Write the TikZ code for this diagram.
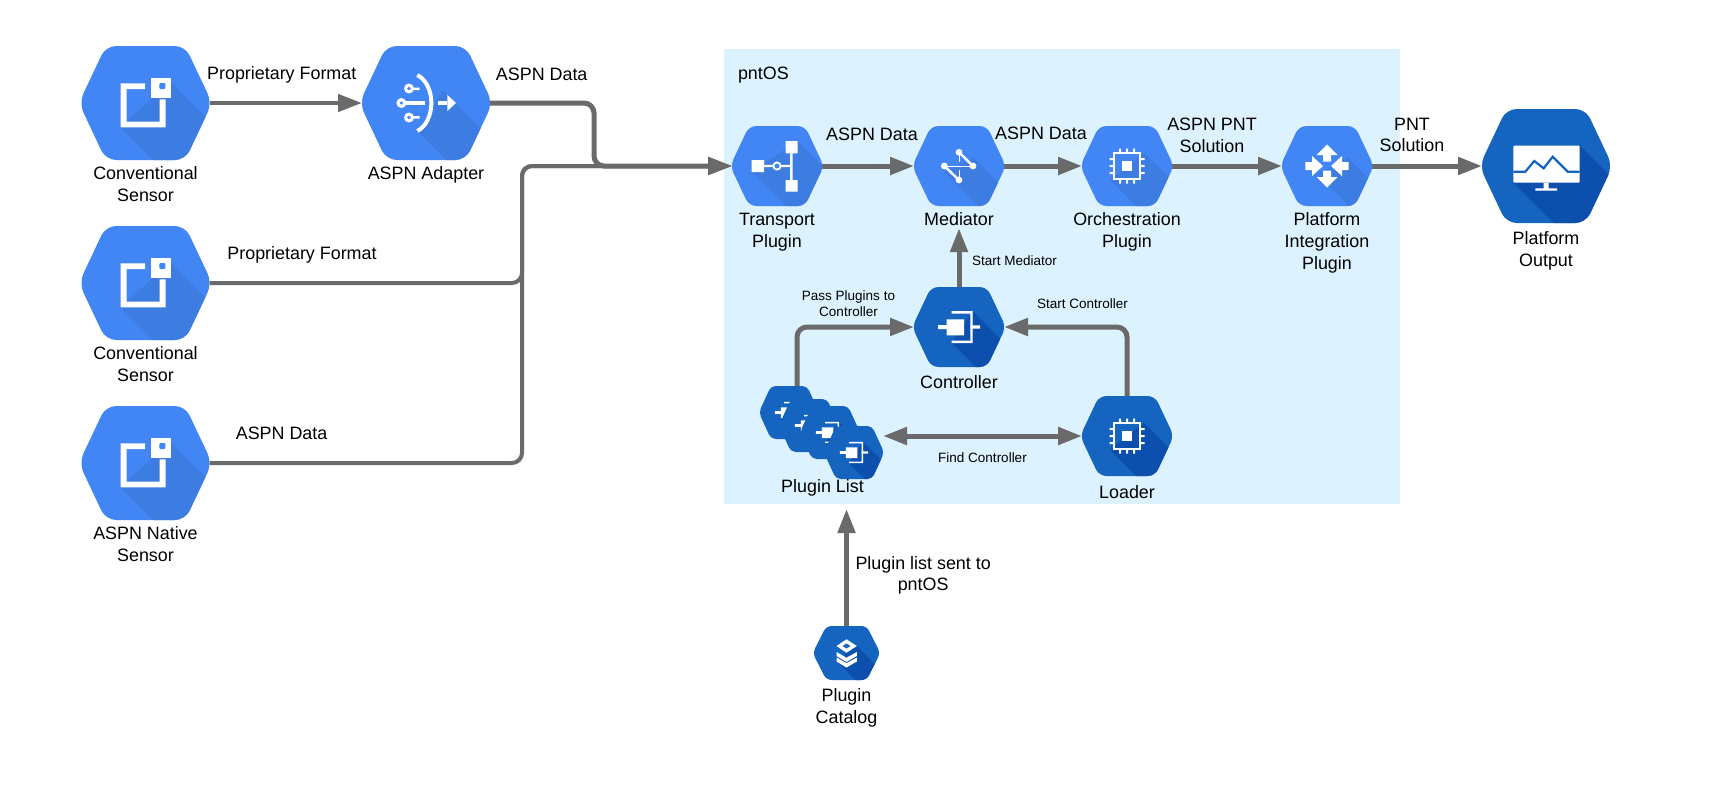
\documentclass[tikz,border=0pt]{standalone}
\usepackage{fontspec}
\setmainfont{Liberation Sans}
\usepackage{xcolor}
\usetikzlibrary{arrows.meta}
\usetikzlibrary{positioning}
\definecolor{hexblue}{HTML}{4285F4}
\definecolor{hexblueS}{HTML}{3D7CE0}
\definecolor{hexdark}{HTML}{1565C0}
\definecolor{hexdarkS}{HTML}{0C4FAC}
\definecolor{osback}{HTML}{DCF2FE}
\definecolor{linegray}{HTML}{6A6A6A}
\newcommand{\hexcast}[4]{\fill[hexshade] (#1,#2) -- ++(150,-150) -- (#3+150,#4-150) -- (#3,#4) -- cycle;}
\newcommand{\iconsensor}{%
  \hexcast{25}{21}{-25}{-24.3}
  \fill[white] (-25,19.7) -- (-0.3,19.7) -- (-0.3,14) -- (-19,14) -- (-19,-18.6) -- (14,-18.6) -- (14,3.7) -- (20,3.7) -- (20,-24.3) -- (-25,-24.3) -- cycle;
  \fill[white] (5,5.3) rectangle (25,24.7);
  \fill[hexmain,rounded corners=1pt] (13.9,14) rectangle (19.9,20);
}
\newcommand{\iconadapter}{%
  \hexcast{17}{12}{-8.6}{-28}
  \draw[white,line width=4pt] (-8.6,28) .. controls (10,18) and (10,-18) .. (-8.6,-28);
  \fill[white] (-24.6,0) circle (5pt) (-17,14.5) circle (5pt) (-17,-14.5) circle (5pt);
  \fill[hexmain] (-24.6,0) circle (1.8pt) (-17,14.5) circle (1.8pt) (-17,-14.5) circle (1.8pt);
  \fill[white] (-21.4,-1.7) rectangle (-1,1.7);
  \fill[white] (-14,13) rectangle (-6.4,15.5) (-14,-15.5) rectangle (-6.4,-13);
  \fill[white] (11.8,-2) rectangle (21.4,2);
  \fill[white] (21.4,8) -- (30,0) -- (21.4,-8) -- cycle;
}
\newcommand{\icontransport}{%
  \hexcast{20.7}{25}{-25.3}{-6}
  \fill[white] (8.7,12.7) rectangle (20.7,25) (8.7,-25.7) rectangle (20.7,-14) (-25.3,-6) rectangle (-13,6);
  \fill[white] (-13,-1.2) rectangle (15.5,1.2) (13.1,-14) rectangle (15.5,12.7);
  \draw[white,fill=hexmain,line width=1.8pt] (0,0) circle (3.6pt);
}
\newcommand{\iconmediator}{%
  \hexcast{14}{8}{-14.7}{-5.7}
  \draw[white,line width=2.4pt] (0,13.7) -- (14,0) (-14.7,0) -- (0,-14);
  \draw[white,line width=0.8pt] (-14.7,0) -- (14,0) (0,13.7) -- (0,4) (0,-14) -- (0,-4);
  \fill[white] (0,13.7) circle (3.4pt) (-14.7,0) circle (3.4pt) (14,0) circle (3.4pt) (0,-14) circle (3.4pt);
}
\newcommand{\iconchip}{%
  \hexcast{17}{13}{-17}{-14}
  \draw[white,line width=2pt] (-13,-13) rectangle (13,13);
  \fill[white] (-5,-5) rectangle (5,5);
  \foreach \pin in {-7,0,7} {
    \fill[white] (\pin-1,13) rectangle (\pin+1,17.5) (\pin-1,-17.5) rectangle (\pin+1,-13);
    \fill[white] (13,\pin-1) rectangle (17.5,\pin+1) (-17.5,\pin-1) rectangle (-13,\pin+1);
  }
}
\newcommand{\iconarrows}{%
  \hexcast{21}{8}{-10}{-8}
  \fill[white] (-10.5,11) -- (0,21.5) -- (10.5,11) -- (4,11) -- (4,4.5) -- (-4,4.5) -- (-4,11) -- cycle;
  \fill[white] (-10.5,-11) -- (0,-21.5) -- (10.5,-11) -- (4,-11) -- (4,-4.5) -- (-4,-4.5) -- (-4,-11) -- cycle;
  \fill[white] (-21.7,4) -- (-15,4) -- (-15,10) -- (-4,0) -- (-15,-10) -- (-15,-4) -- (-21.7,-4) -- cycle;
  \fill[white] (21.7,4) -- (15,4) -- (15,10) -- (4,0) -- (15,-10) -- (15,-4) -- (21.7,-4) -- cycle;
}
\newcommand{\iconoutput}{%
  \hexcast{33.7}{20.3}{-33}{-16.7}
  \fill[white,rounded corners=1pt] (-32.7,-16.7) rectangle (33.7,20.3);
  \draw[hexmain,line width=2.2pt] (-32.7,-5.7) -- (-20.7,-5.7) -- (-11.7,5) -- (-2.3,-2.3) -- (6.7,9.3) -- (21.7,-5.7) -- (33.7,-5.7);
  \fill[white] (-2.3,-22.3) rectangle (2.7,-16.7) (-10.7,-24.7) rectangle (11,-22.3);
}
\newcommand{\iconcontroller}{%
  \hexcast{13.7}{16}{-7.3}{-16}
  \fill[white] (-12.3,-8.3) rectangle (5,7.7) (-21,-2) rectangle (-12.3,2) (11.5,-1.7) rectangle (21,1.7);
  \fill[white] (-7.3,16) -- (13.7,16) -- (13.7,-16) -- (-7.3,-16) -- (-7.3,-13.5) -- (11.3,-13.5) -- (11.3,13.5) -- (-7.3,13.5) -- cycle;
}
\newcommand{\iconstack}{%
  \hexcast{10.3}{7}{-10}{-8}
  \fill[white] (0,13.7) -- (10.3,7) -- (0,0.3) -- (-10,7) -- cycle;
  \fill[hexmain] (0,9.5) -- (4,7) -- (0,4.5) -- (-4,7) -- cycle;
  \fill[white] (-10,1) -- (0,-4.7) -- (10.3,1) -- (10.3,-3) -- (0,-9) -- (-10,-3) -- cycle;
  \fill[white] (-10,-4.5) -- (0,-10.2) -- (10.3,-4.5) -- (10.3,-8.5) -- (0,-14.5) -- (-10,-8.5) -- cycle;
}
% name, placement, width, height, colour, icon, icon scale
\newcommand{\hexnode}[7]{%
  \node (#1) [rectangle, inner sep=0pt, outer sep=0pt, minimum width=#3pt, minimum height=#4pt, #2] {};
  \begin{scope}[shift={(#1.center)}]
    \colorlet{hexmain}{#5}\colorlet{hexshade}{#5S}
    \clip[xscale=#3/200, yscale=#4/200, rounded corners=#3*0.08pt]
      (-104,0) -- (-62,100) -- (62,100) -- (104,0) -- (62,-100) -- (-62,-100) -- cycle;
    \fill[hexmain] (-150,-150) rectangle (150,150);
    \begin{scope}[scale=#7]#6\end{scope}
  \end{scope}
}
\tikzset{
  lbl/.style={font=\fontsize{17.9}{21.7}\selectfont, align=center, inner sep=0pt, outer sep=0pt, text=black},
  smalllbl/.style={font=\fontsize{13.5}{16}\selectfont, align=center, inner sep=0pt, outer sep=0pt, text=black}
}
\tikzstyle{arrow} = [line width=5pt, draw=linegray, -{Triangle[length=24pt,width=17pt,fill=linegray]}]
\tikzstyle{feed} = [line width=4pt, draw=linegray, rounded corners=10pt, -{Triangle[length=24pt,width=17pt,fill=linegray]}]
\tikzstyle{both} = [line width=5pt, draw=linegray, {Triangle[length=24pt,width=17pt,fill=linegray]}-{Triangle[length=24pt,width=17pt,fill=linegray]}]
\begin{document}
\begin{tikzpicture}[x=1pt, y=1pt, node distance=100pt]
    \useasboundingbox (0,0) rectangle (1725,-795);

    \node (pntos) [rectangle, fill=osback, inner sep=0pt, outer sep=0pt, minimum width=676pt, minimum height=455pt] at (1062,-276.5) {};
    \node (pntosText) [lbl, anchor=base west] at (738,-79) {pntOS};

    \hexnode{sensorA}{at={(145.5,-103)}}{128}{114}{hexblue}{\iconsensor}{1}
    \hexnode{adapter}{right of=sensorA, xshift=180.5pt}{128}{114}{hexblue}{\iconadapter}{1}
    \hexnode{sensorB}{below of=sensorA, yshift=-80pt}{128}{114}{hexblue}{\iconsensor}{1}
    \hexnode{sensorC}{below of=sensorB, yshift=-80pt}{128}{114}{hexblue}{\iconsensor}{1}

    \hexnode{transport}{right of=adapter, xshift=251pt, yshift=-63pt}{90}{80}{hexblue}{\icontransport}{1}
    \hexnode{mediator}{right of=transport, xshift=82pt}{90}{80}{hexblue}{\iconmediator}{1}
    \hexnode{orch}{right of=mediator, xshift=68pt}{90}{80}{hexblue}{\iconchip}{1}
    \hexnode{platInt}{right of=orch, xshift=100pt}{90}{80}{hexblue}{\iconarrows}{1}
    \hexnode{platOut}{right of=platInt, xshift=119pt}{128}{114}{hexdark}{\iconoutput}{1}

    \hexnode{controller}{below of=mediator, yshift=-61pt}{90}{80}{hexdark}{\iconcontroller}{1}
    \hexnode{loader}{below of=orch, yshift=-170pt}{90}{80}{hexdark}{\iconchip}{1}
    \hexnode{pluginA}{below of=controller, xshift=-170pt, yshift=14.5pt}{58}{53}{hexdark}{\iconcontroller}{0.67}
    \hexnode{pluginB}{node distance=20pt, right of=pluginA, yshift=-13pt}{58}{53}{hexdark}{\iconcontroller}{0.67}
    \hexnode{pluginC}{node distance=21pt, right of=pluginB, yshift=-7pt}{58}{53}{hexdark}{\iconcontroller}{0.67}
    \hexnode{pluginD}{node distance=24pt, right of=pluginC, yshift=-20pt}{58}{53}{hexdark}{\iconcontroller}{0.67}
    \hexnode{catalog}{below of=pluginD, xshift=-7.5pt, yshift=-100.5pt}{65}{54}{hexdark}{\iconstack}{1}

    \node (sensorAText) [lbl, below=7pt of sensorA] {Conventional\\Sensor};
    \node (adapterText) [lbl, below=7pt of adapter] {ASPN Adapter};
    \node (sensorBText) [lbl, below=7pt of sensorB] {Conventional\\Sensor};
    \node (sensorCText) [lbl, below=7pt of sensorC] {ASPN Native\\Sensor};
    \node (transportText) [lbl, below=7pt of transport] {Transport\\Plugin};
    \node (mediatorText) [lbl, below=7pt of mediator] {Mediator};
    \node (orchText) [lbl, below=7pt of orch] {Orchestration\\Plugin};
    \node (platIntText) [lbl, below=7pt of platInt] {Platform\\Integration\\Plugin};
    \node (platOutText) [lbl, below=9pt of platOut] {Platform\\Output};
    \node (controllerText) [lbl, below=9pt of controller] {Controller};
    \node (loaderText) [lbl, below=10pt of loader] {Loader};
    \node (pluginText) [lbl, below=1pt of pluginD, xshift=-31.5pt] {Plugin List};
    \node (catalogText) [lbl, below=9pt of catalog] {Plugin\\Catalog};

    \coordinate (busA) at (594,-135);
    \coordinate (busB) at (522,-225);

    \draw [arrow, line width=4.5pt] (sensorA) -- node[lbl, anchor=base, xshift=-4pt, yshift=24pt]{Proprietary Format} (adapter);
    \draw [feed] (sensorB.east) -| (busB) |- (transport.west);
    \draw [feed] (sensorC.east) -| (busB) |- (transport.west);
    \draw [feed, line width=5pt] (adapter.east) -| (busA) |- (transport.west);
    \draw [arrow] (transport) -- node[lbl, anchor=base, xshift=4pt, yshift=26pt]{ASPN Data} (mediator);
    \draw [arrow] (mediator) -- node[lbl, anchor=base, xshift=-2pt, yshift=27pt]{ASPN Data} (orch);
    \draw [arrow] (orch) -- node[lbl, xshift=-15pt, yshift=31pt]{ASPN PNT\\Solution} (platInt);
    \draw [arrow] (platInt) -- node[lbl, xshift=-15pt, yshift=31pt]{PNT\\Solution} (platOut);
    \draw [arrow] (controller.north) -- node[smalllbl, anchor=base west, xshift=13pt, yshift=-8pt]{Start Mediator} ([yshift=-2pt]mediatorText.south);
    \draw [feed, line width=5pt] ([xshift=8pt]pluginA.north) |- node[smalllbl, pos=0.75, xshift=-7pt, yshift=23pt]{Pass Plugins to\\Controller} (controller.west);
    \draw [feed, line width=5pt] (loader.north) |- node[smalllbl, pos=0.75, anchor=base, xshift=17pt, yshift=19pt]{Start Controller} (controller.east);
    \draw [both] (pluginD.east |- loader.west) -- node[smalllbl, anchor=base, yshift=-26pt]{Find Controller} (loader.west);
    \draw [arrow] (catalog.north) -- node[lbl, anchor=west, xshift=9pt, yshift=-8pt]{Plugin list sent to\\pntOS} ([yshift=-5pt]catalog.north |- pntos.south);

    \node (adapterData) [lbl, anchor=base] at (541.7,-80) {ASPN Data};
    \node (sensorBFormat) [lbl, anchor=base] at (302,-259) {Proprietary Format};
    \node (sensorCData) [lbl, anchor=base] at (281.6,-439) {ASPN Data};
\end{tikzpicture}
\end{document}
